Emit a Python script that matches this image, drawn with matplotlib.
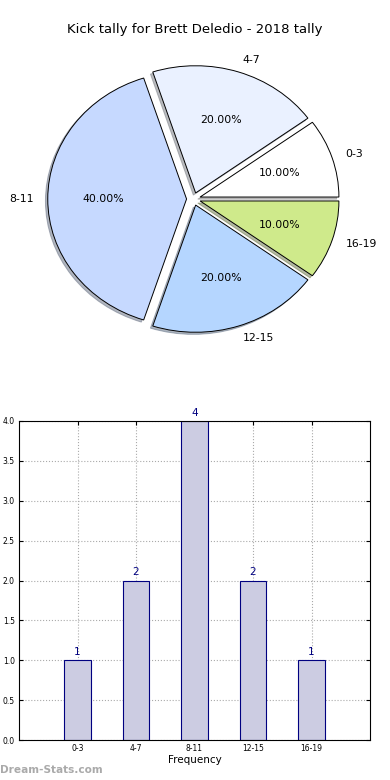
import matplotlib
matplotlib.use("Agg")
import matplotlib.pyplot as plt
import numpy as np

# data
categories = ["0-3", "4-7", "8-11", "12-15", "16-19"]
counts = [1, 2, 4, 2, 1]
pie_colors = ["#ffffff", "#eaf1ff", "#c6d9ff", "#b5d6ff", "#cfea8b"]
title = "Kick tally for Brett Deledio - 2018 tally"

fig = plt.figure(figsize=(3.9, 7.8), dpi=100)

# ---- pie (top) ----
ax_pie = fig.add_axes([20 / 390, (780 - 358) / 780, 347 / 390, 318 / 780])
ax_pie.pie(counts, labels=categories, colors=pie_colors, autopct="%.2f%%",
           explode=[0.05] * len(counts), startangle=0,
           shadow=dict(ox=-0.012, oy=-0.012, shade=0.5),
           wedgeprops=dict(edgecolor="black", linewidth=0.7),
           textprops=dict(fontsize=7.8))
ax_pie.set_aspect("auto")
ax_pie.set_xlim(-1.25, 1.25)
ax_pie.set_ylim(-1.25, 1.25)
fig.text(0.5, 1 - 30 / 780, title, ha="center", va="center", fontsize=9.5)

# ---- bar (bottom) ----
ax = fig.add_axes([19 / 390, 40 / 780, 351 / 390, 319 / 780])
x = np.arange(len(categories))
ax.bar(x, counts, width=0.45, color="#ccccE2", edgecolor="#000080", linewidth=0.8, zorder=2)
for xi, c in zip(x, counts):
    ax.text(xi, c + 0.04, str(c), ha="center", va="bottom", color="#000080", fontsize=7.5)
ax.set_xlim(-1, 5)
ax.set_ylim(0, 4)
ax.set_xticks(x)
ax.set_xticklabels(categories)
ax.set_yticks(np.arange(0, 4.01, 0.5))
ax.set_yticklabels([f"{v:.1f}" for v in np.arange(0, 4.01, 0.5)])
ax.tick_params(labelsize=5.5, direction="in", top=True, right=True, length=3, pad=3)
ax.grid(True, linestyle=":", color="#aaaaaa", linewidth=0.8, zorder=0)
ax.set_axisbelow(True)
ax.set_xlabel("Frequency", fontsize=7.5, labelpad=1)
for s in ax.spines.values():
    s.set_linewidth(0.8)

fig.text(0.0, 1 - 770 / 780, "Dream-Stats.com", ha="left", va="center",
         fontsize=7.6, fontweight="bold", color="#aaaaaa")

fig.savefig("out.png", dpi=100)
